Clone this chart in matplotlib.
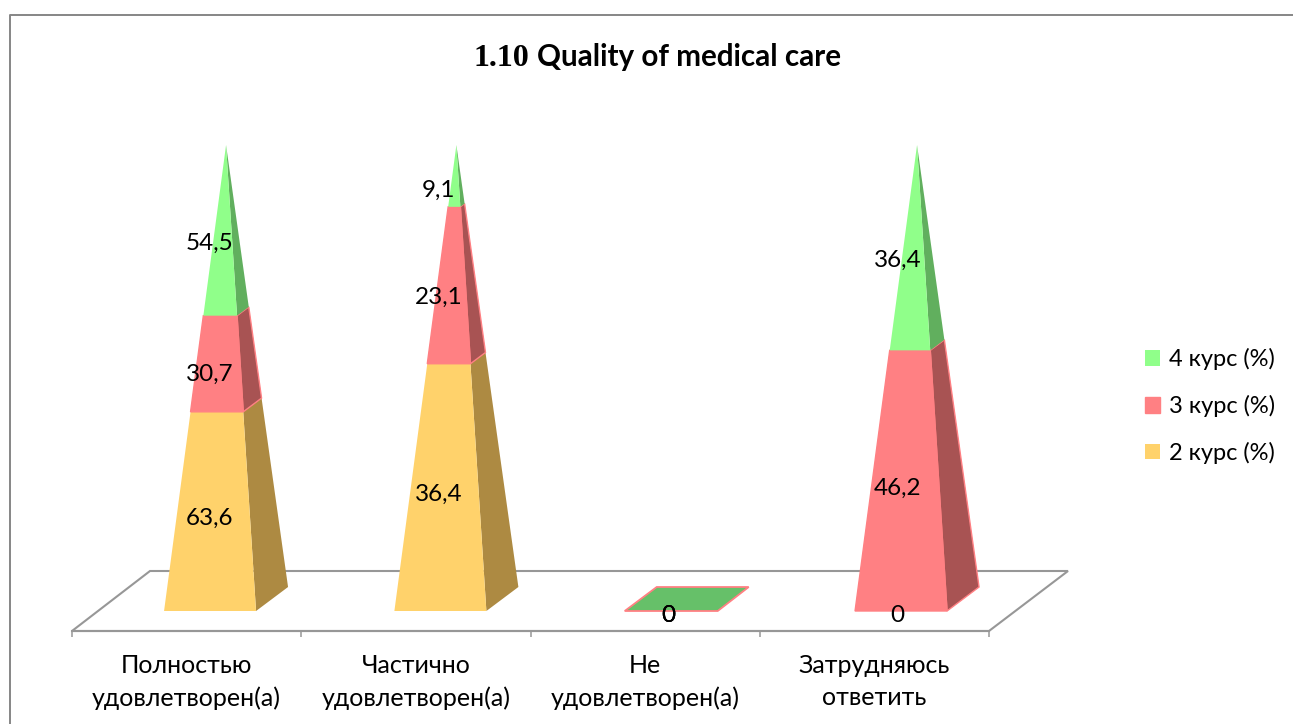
import matplotlib
matplotlib.use('Agg')
import numpy as np
import matplotlib.pyplot as plt
from matplotlib.patches import Polygon, Patch

plt.rcParams['font.family'] = ['Lato', 'Open Sans', 'DejaVu Sans']

categories = ['Полностью\nудовлетворен(а)', 'Частично\nудовлетворен(а)', 'Не\nудовлетворен(а)', 'Затрудняюсь\nответить']
course2 = [63.6, 36.4, 0, 0]
course3 = [30.7, 23.1, 0, 46.2]
course4 = [54.5, 9.1, 0, 36.4]
series_names = ['2 курс (%)', '3 курс (%)', '4 курс (%)']
title_num = '1.10'
title_text = 'Quality of medical care'

W, H = 1293, 724
FRONT = {'2': '#FFD26B', '3': '#FF8083', '4': '#90FF8A'}
SIDE = {'2': '#AD8A42', '3': '#A85353', '4': '#61AF5E'}
GRAY = '#979797'
FS = 17.5

fig = plt.figure(figsize=(W / 100, H / 100), dpi=100, facecolor='white')
# axes box: categories 0..4 across, 0..100% of the stack from base to apex
ax = fig.add_axes([72 / W, (H - 611) / H, 917 / W, 466 / H])
ax.set_xlim(0, 4)
ax.set_ylim(0, 100)
ax.patch.set_visible(False)
PX = 4 / 917
PY = 100 / 466


def pt(x0, dx, dy):
    return (x0 + dx * PX, dy * PY)


# outer chart frame, cut off by the picture on the right and bottom
fig.add_artist(plt.Line2D([10 / W, 10 / W, 1], [0, 1 - 15 / H, 1 - 15 / H], color='#868686', lw=1.4))

# floor
floor = Polygon([(0, -20 * PY), (4, -20 * PY), pt(4, 79, 40), pt(0, 78, 40)], closed=True,
                facecolor='white', edgecolor=GRAY, lw=1.5, clip_on=False, zorder=1)
ax.add_patch(floor)

# x axis sits at the floor's front edge
for s in ['top', 'left', 'right']:
    ax.spines[s].set_visible(False)
ax.spines['bottom'].set_position(('data', -20 * PY))
ax.spines['bottom'].set_color(GRAY)
ax.spines['bottom'].set_linewidth(1.5)
ax.spines['bottom'].set_zorder(2)
ax.set_yticks([])
ax.set_xticks(range(5))
ax.set_xticklabels([])
ax.tick_params(axis='x', which='major', length=4.5, width=1.1, color=GRAY)
ax.set_xticks(np.arange(4) + 0.5, minor=True)
ax.set_xticklabels(categories, minor=True, fontsize=18, color='black', linespacing=1.46)
ax.tick_params(axis='x', which='minor', length=0, pad=16.5)


def corners(cx, p):
    # front-left, front-right, back-right corners of the section at p percent of height
    f = p / 100
    fl = (-62 * (1 - f), 466 * f)
    fr = (30 * (1 - f), 466 * f)
    br = (62 * (1 - f), 24 + (466 - 24) * f)
    return [pt(cx, *fl), pt(cx, *fr), pt(cx, *br)]


keys = ['2', '3', '4']
for i in range(len(categories)):
    cx = 0.672 + 1.0047 * i
    vals = [course2[i], course3[i], course4[i]]
    total = sum(vals)
    if total == 0:
        # all-zero category collapses to a flat base
        ax.add_patch(Polygon([pt(cx, -62, 0), pt(cx, 31, 0), pt(cx, 62, 24), pt(cx, -30, 24)], closed=True,
                             facecolor='#66C069', edgecolor=FRONT['3'], lw=1.3, clip_on=False, zorder=3))
        for v in vals:
            ax.text(i + 0.5 + 23 * PX, -1.0, '0', ha='center', va='center', fontsize=FS, zorder=6)
        continue
    bottom = 0
    for k, v in zip(keys, vals):
        top = bottom + v / total * 100
        if v > 0:
            a = corners(cx, bottom)
            b = corners(cx, top)
            edge = FRONT['3'] if k == '3' else 'none'
            ax.add_patch(Polygon([a[1], a[2], b[2], b[1]], closed=True, facecolor=SIDE[k], edgecolor=edge,
                                 lw=1.0, clip_on=False, zorder=3))
            ax.add_patch(Polygon([a[0], a[1], b[1], b[0]], closed=True, facecolor=FRONT[k], edgecolor=edge,
                                 lw=1.0, clip_on=False, zorder=4))
        mid = (bottom + top) / 2
        ax.text(i + 0.5 + 23 * PX, -1.0 + 0.978 * mid, str(v).replace('.', ',') if v > 0 else '0',
                ha='center', va='center', fontsize=FS, color='black', zorder=6)
        bottom = top

# title in two fonts, like the original
fig.text(473 / W, 1 - 66 / H, title_num, family='Liberation Serif', fontweight='bold', fontsize=23, ha='left', va='baseline')
fig.text(537 / W, 1 - 66 / H, title_text, family='Lato', fontweight='bold', fontsize=21.3, ha='left', va='baseline')

handles = [Patch(facecolor=FRONT[k], edgecolor=FRONT[k] if k == '3' else 'none') for k in keys[::-1]]
fig.legend(handles, series_names[::-1], loc='center left', bbox_to_anchor=(1145 / W, 1 - 406 / H), frameon=False,
           fontsize=17, handlelength=0.64, handleheight=0.64, handletextpad=0.36, labelspacing=1.05,
           borderpad=0, borderaxespad=0)

fig.savefig('out.png', dpi=100)
